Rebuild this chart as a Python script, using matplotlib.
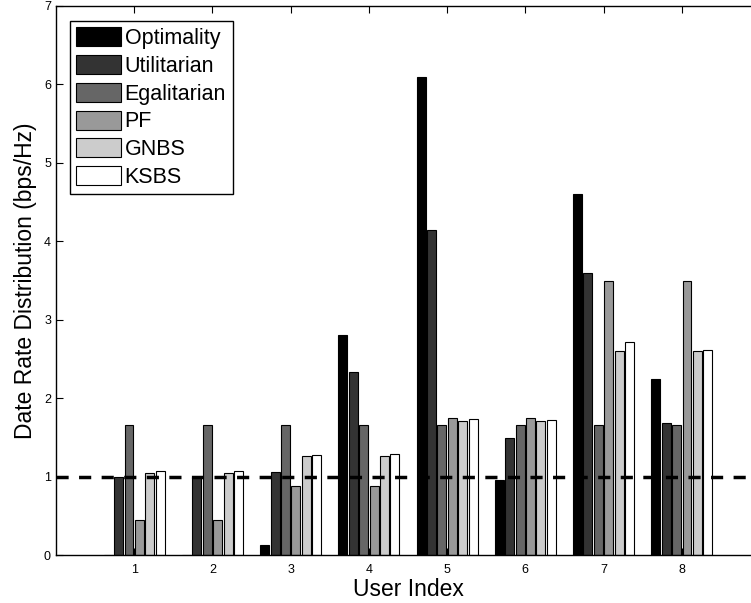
import numpy as np
import matplotlib
matplotlib.use("Agg")
import matplotlib.pyplot as plt

plt.rcParams['font.family'] = ['Liberation Sans', 'DejaVu Sans']

users = [1, 2, 3, 4, 5, 6, 7, 8]
series_names = ["Optimality", "Utilitarian", "Egalitarian", "PF", "GNBS", "KSBS"]
optimality  = [0.0, 0.0, 0.13, 2.80, 6.10, 0.95, 4.60, 2.25]
utilitarian = [1.00, 1.00, 1.06, 2.33, 4.15, 1.49, 3.60, 1.68]
egalitarian = [1.66, 1.66, 1.66, 1.66, 1.66, 1.66, 1.66, 1.66]
pf          = [0.44, 0.44, 0.88, 0.88, 1.75, 1.75, 3.50, 3.50]
gnbs        = [1.05, 1.05, 1.26, 1.26, 1.71, 1.71, 2.60, 2.60]
ksbs        = [1.07, 1.07, 1.27, 1.29, 1.73, 1.72, 2.72, 2.62]
threshold = 1.0
colors = ["#000000", "#333333", "#666666", "#999999", "#cccccc", "#ffffff"]

data = [optimality, utilitarian, egalitarian, pf, gnbs, ksbs]

fig = plt.figure(figsize=(7.51, 6.03), dpi=100)
W, H = 751, 603
x0, x1 = 56, 760
y0, y1 = 555, 6
ax = fig.add_axes([x0 / W, (H - y0) / H, (x1 - x0) / W, (y0 - y1) / H])

n = len(data)
slot = 0.8 / n
bw = slot * 0.86
x = np.array(users, dtype=float)
for i, (vals, name, c) in enumerate(zip(data, series_names, colors)):
    off = (i - (n - 1) / 2) * slot
    ax.bar(x + off, vals, width=bw, color=c, edgecolor="black", linewidth=0.8,
           label=name, zorder=2)

ax.axhline(threshold, color="black", linestyle=(0, (3.5, 3)), linewidth=2.5, zorder=3)

ax.set_xlim(0, 9)
ax.set_ylim(0, 7)
ax.set_xticks(users)
ax.set_yticks(range(0, 8))
ax.tick_params(direction="in", length=5, width=0.8, labelsize=9, top=True, right=True)
ax.tick_params(axis="x", pad=6.5)
ax.tick_params(axis="y", pad=3.6)
for s in ax.spines.values():
    s.set_linewidth(1.0)

ax.set_xlabel("User Index", fontsize=16.5)
ax.set_ylabel("Date Rate Distribution (bps/Hz)", fontsize=16.5)
ax.xaxis.set_label_coords(0.5, -(577.5 - y0) / (y0 - y1))
ax.yaxis.set_label_coords((37 - x0) / (x1 - x0), 0.5)

leg = ax.legend(loc="upper left", bbox_to_anchor=((70 - x0) / (x1 - x0), 1 - (21 - y1) / (y0 - y1)),
                borderaxespad=0, fontsize=15.5, handlelength=2.05, handleheight=0.98,
                labelspacing=0.27, handletextpad=0.19, borderpad=0.3, fancybox=False,
                framealpha=1, edgecolor="black")
leg.get_frame().set_linewidth(1.0)

fig.savefig("out.png", dpi=100)
